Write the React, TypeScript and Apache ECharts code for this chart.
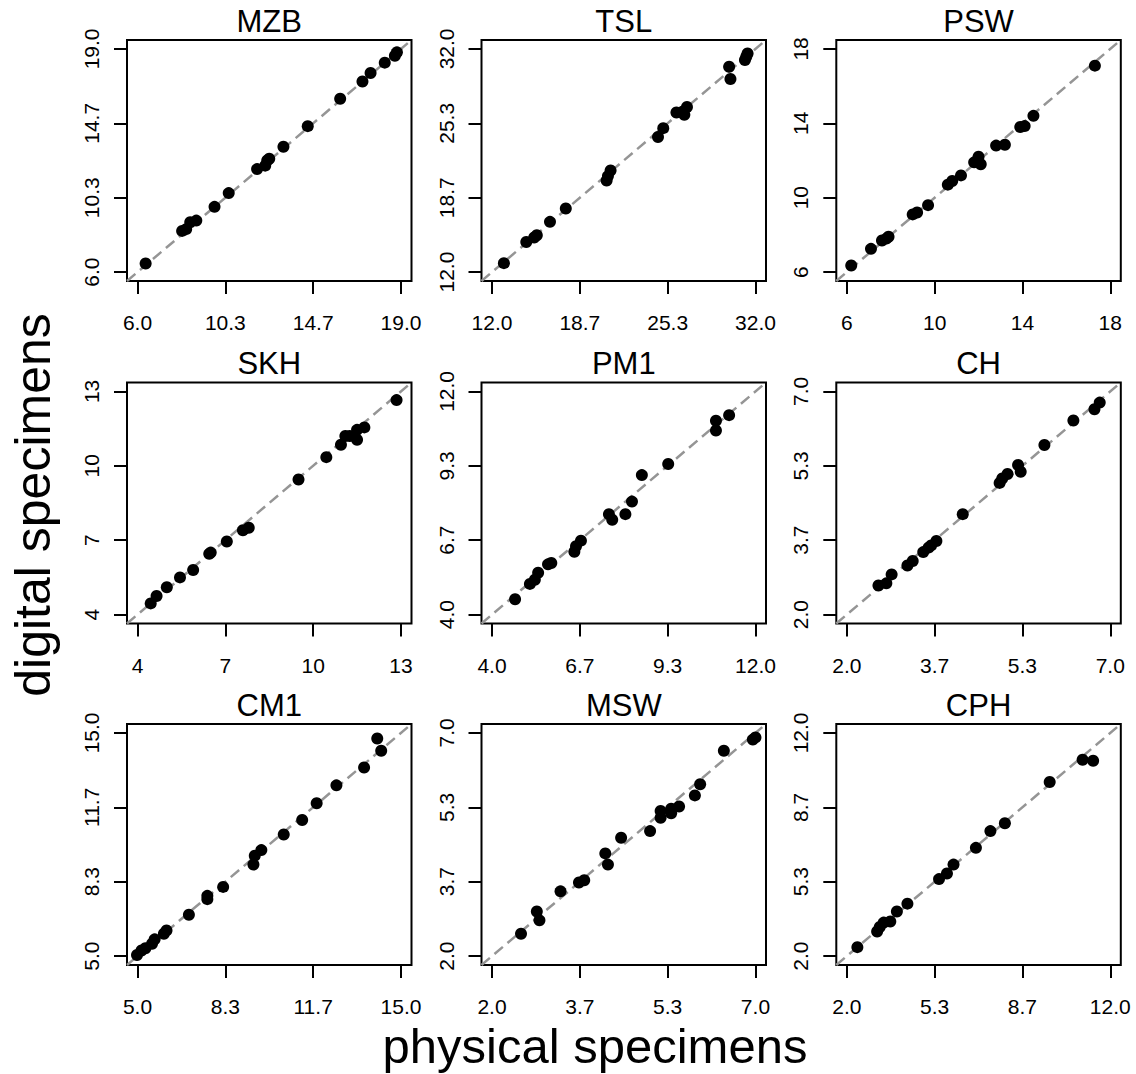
import React, { useEffect, useRef } from "react";
import * as echarts from "echarts";

const FONT = "'Liberation Sans', Arial, Helvetica, sans-serif";

const panelNames = ["MZB", "TSL", "PSW", "SKH", "PM1", "CH", "CM1", "MSW", "CPH"];

const tickLimits: number[][] = [
  [6, 19], [12, 32], [6, 18],
  [4, 13], [4, 12], [2, 7],
  [5, 15], [2, 7], [2, 12],
];

const tickLabels: string[][] = [
  ["6.0", "10.3", "14.7", "19.0"],
  ["12.0", "18.7", "25.3", "32.0"],
  ["6", "10", "14", "18"],
  ["4", "7", "10", "13"],
  ["4.0", "6.7", "9.3", "12.0"],
  ["2.0", "3.7", "5.3", "7.0"],
  ["5.0", "8.3", "11.7", "15.0"],
  ["2.0", "3.7", "5.3", "7.0"],
  ["2.0", "5.3", "8.7", "12.0"],
];

const mzbPhysical = [6.4, 8.2, 8.4, 8.6, 8.9, 9.8, 10.5, 11.9, 12.3, 12.4, 12.5, 13.2, 14.4, 16.0, 17.1, 17.5, 18.2, 18.7, 18.8];
const mzbDigital = [6.5, 8.4, 8.5, 8.9, 9.0, 9.8, 10.6, 12.0, 12.2, 12.5, 12.6, 13.3, 14.5, 16.1, 17.1, 17.6, 18.2, 18.6, 18.8];

const tslPhysical = [12.9, 14.6, 15.2, 15.4, 16.4, 17.6, 20.7, 20.8, 21.0, 24.6, 25.0, 26.0, 26.5, 26.6, 26.8, 30.0, 30.1, 31.2, 31.3, 31.4];
const tslDigital = [12.8, 14.7, 15.1, 15.3, 16.5, 17.7, 20.2, 20.6, 21.1, 24.1, 24.9, 26.3, 26.4, 26.1, 26.8, 30.4, 29.3, 31.0, 31.3, 31.6];

const pswPhysical = [6.2, 7.1, 7.6, 7.8, 7.9, 9.0, 9.2, 9.7, 10.6, 10.8, 11.2, 11.8, 12.0, 12.1, 12.8, 13.2, 13.9, 14.1, 14.5, 17.3];
const pswDigital = [6.35, 7.25, 7.7, 7.8, 7.9, 9.1, 9.2, 9.6, 10.7, 10.9, 11.2, 11.9, 12.2, 11.8, 12.8, 12.85, 13.8, 13.85, 14.4, 17.1];

const skhPhysical = [4.45, 4.65, 5.0, 5.45, 5.9, 6.45, 6.5, 7.05, 7.6, 7.8, 9.5, 10.45, 10.95, 11.1, 11.25, 11.5, 11.5, 11.75, 12.85];
const skhDigital = [4.45, 4.75, 5.1, 5.5, 5.8, 6.45, 6.5, 6.95, 7.4, 7.5, 9.45, 10.35, 10.85, 11.2, 11.2, 11.05, 11.45, 11.55, 12.65];

const pm1Physical = [4.7, 5.15, 5.3, 5.4, 5.7, 5.8, 6.5, 6.55, 6.7, 7.55, 7.65, 8.05, 8.25, 8.55, 9.35, 10.8, 10.8, 11.2];
const pm1Digital = [4.55, 5.1, 5.25, 5.5, 5.8, 5.85, 6.25, 6.45, 6.65, 7.6, 7.4, 7.6, 8.05, 9.0, 9.4, 10.95, 10.6, 11.15];

const chPhysical = [2.6, 2.75, 2.85, 3.15, 3.25, 3.45, 3.55, 3.6, 3.7, 4.2, 4.9, 4.95, 5.05, 5.25, 5.3, 5.75, 6.3, 6.7, 6.8];
const chDigital = [2.65, 2.7, 2.9, 3.1, 3.2, 3.4, 3.5, 3.55, 3.65, 4.25, 4.95, 5.05, 5.15, 5.35, 5.2, 5.8, 6.35, 6.6, 6.75];

const cm1Physical = [4.98, 5.15, 5.3, 5.55, 5.65, 6.0, 6.1, 6.95, 7.65, 7.65, 8.25, 9.4, 9.45, 9.7, 10.55, 11.25, 11.8, 12.55, 13.6, 14.1, 14.25];
const cm1Digital = [5.05, 5.25, 5.35, 5.55, 5.75, 6.0, 6.15, 6.85, 7.55, 7.7, 8.1, 9.1, 9.5, 9.75, 10.45, 11.1, 11.85, 12.65, 13.45, 14.75, 14.2];

const mswPhysical = [2.55, 2.85, 2.9, 3.3, 3.65, 3.75, 4.15, 4.2, 4.45, 5.0, 5.2, 5.2, 5.4, 5.4, 5.55, 5.85, 5.95, 6.4, 6.95, 7.0];
const mswDigital = [2.5, 3.0, 2.8, 3.45, 3.65, 3.7, 4.3, 4.05, 4.65, 4.8, 5.25, 5.1, 5.3, 5.2, 5.35, 5.6, 5.85, 6.6, 6.85, 6.9];

const cphPhysical = [2.4, 3.15, 3.25, 3.4, 3.65, 3.9, 4.3, 5.5, 5.8, 6.05, 6.9, 7.45, 8.0, 9.7, 10.95, 11.35];
const cphDigital = [2.4, 3.1, 3.3, 3.5, 3.55, 4.0, 4.35, 5.45, 5.7, 6.1, 6.85, 7.6, 7.95, 9.8, 10.8, 10.75];

const physicalValues = [mzbPhysical, tslPhysical, pswPhysical, skhPhysical, pm1Physical, chPhysical, cm1Physical, mswPhysical, cphPhysical];
const digitalValues = [mzbDigital, tslDigital, pswDigital, skhDigital, pm1Digital, chDigital, cm1Digital, mswDigital, cphDigital];

const xAxisTitle = "physical specimens";
const yAxisTitle = "digital specimens";

// layout (px)
const colLeft = [127, 481.5, 836.3];
const rowTop = [40, 382.5, 724];
const boxW = 284.5;
const boxH = 241;

function buildOption() {
  const grid: any[] = [];
  const xAxis: any[] = [];
  const yAxis: any[] = [];
  const series: any[] = [];
  const graphic: any[] = [];

  panelNames.forEach((name, i) => {
    const r = Math.floor(i / 3);
    const c = i % 3;
    const [lo, hi] = tickLimits[i];
    const span = hi - lo;
    const mn = lo - 0.04 * span;
    const mx = hi + 0.04 * span;
    const ticks = [0, 1, 2, 3].map((k) => lo + (k * span) / 3);
    const labels = tickLabels[i];
    const fmt = (v: number) => {
      let best = 0;
      ticks.forEach((t, k) => {
        if (Math.abs(t - v) < Math.abs(ticks[best] - v)) best = k;
      });
      return labels[best];
    };

    grid.push({
      left: colLeft[c],
      top: rowTop[r],
      width: boxW,
      height: boxH,
      show: true,
      borderColor: "#000",
      borderWidth: 2,
      backgroundColor: "transparent",
    });

    const common = {
      type: "value",
      gridIndex: i,
      min: mn,
      max: mx,
      splitLine: { show: false },
      axisLine: { show: false },
      axisTick: {
        show: true,
        inside: false,
        length: 13,
        customValues: ticks,
        lineStyle: { color: "#000", width: 2 },
      },
    };

    xAxis.push({
      ...common,
      position: "bottom",
      axisLabel: {
        show: true,
        customValues: ticks,
        formatter: fmt,
        fontSize: 21,
        color: "#000",
        fontFamily: FONT,
        margin: 31,
      },
    });
    yAxis.push({
      ...common,
      position: "left",
      axisLabel: {
        show: true,
        customValues: ticks,
        formatter: fmt,
        fontSize: 21,
        color: "#000",
        fontFamily: FONT,
        rotate: 90,
        margin: 25,
      },
    });

    series.push({
      type: "line",
      xAxisIndex: i,
      yAxisIndex: i,
      data: [
        [mn, mn],
        [mx, mx],
      ],
      symbol: "none",
      silent: true,
      lineStyle: { color: "#959595", width: 2.5, type: [11, 6] },
      z: 2,
    });
    series.push({
      type: "scatter",
      xAxisIndex: i,
      yAxisIndex: i,
      data: physicalValues[i].map((x, k) => [x, digitalValues[i][k]]),
      symbol: "circle",
      symbolSize: 12,
      itemStyle: { color: "#000", opacity: 1 },
      z: 3,
    });

    graphic.push({
      type: "text",
      x: colLeft[c] + boxW / 2,
      y: rowTop[r] - 19,
      style: {
        text: name,
        fill: "#000",
        font: `31px ${FONT}`,
        align: "center",
        verticalAlign: "middle",
        textAlign: "center",
        textVerticalAlign: "middle",
      },
    });
  });

  graphic.push({
    type: "text",
    x: 595,
    y: 1046,
    style: {
      text: xAxisTitle,
      fill: "#000",
      font: `49px ${FONT}`,
      align: "center",
      verticalAlign: "middle",
      textAlign: "center",
      textVerticalAlign: "middle",
    },
  });
  graphic.push({
    type: "text",
    x: 33,
    y: 505,
    rotation: Math.PI / 2,
    style: {
      text: yAxisTitle,
      fill: "#000",
      font: `50px ${FONT}`,
      align: "center",
      verticalAlign: "middle",
      textAlign: "center",
      textVerticalAlign: "middle",
    },
  });

  return {
    animation: false,
    backgroundColor: "#fff",
    grid,
    xAxis,
    yAxis,
    series,
    graphic,
  };
}

export default function App() {
  const ref = useRef<HTMLDivElement>(null);
  useEffect(() => {
    if (!ref.current) return;
    const chart = echarts.init(ref.current, null, { renderer: "svg" });
    chart.setOption(buildOption() as any);
    return () => chart.dispose();
  }, []);
  return (
    <div
      ref={ref}
      style={{ position: "absolute", left: 0, top: 0, width: 1136, height: 1074 }}
    />
  );
}
